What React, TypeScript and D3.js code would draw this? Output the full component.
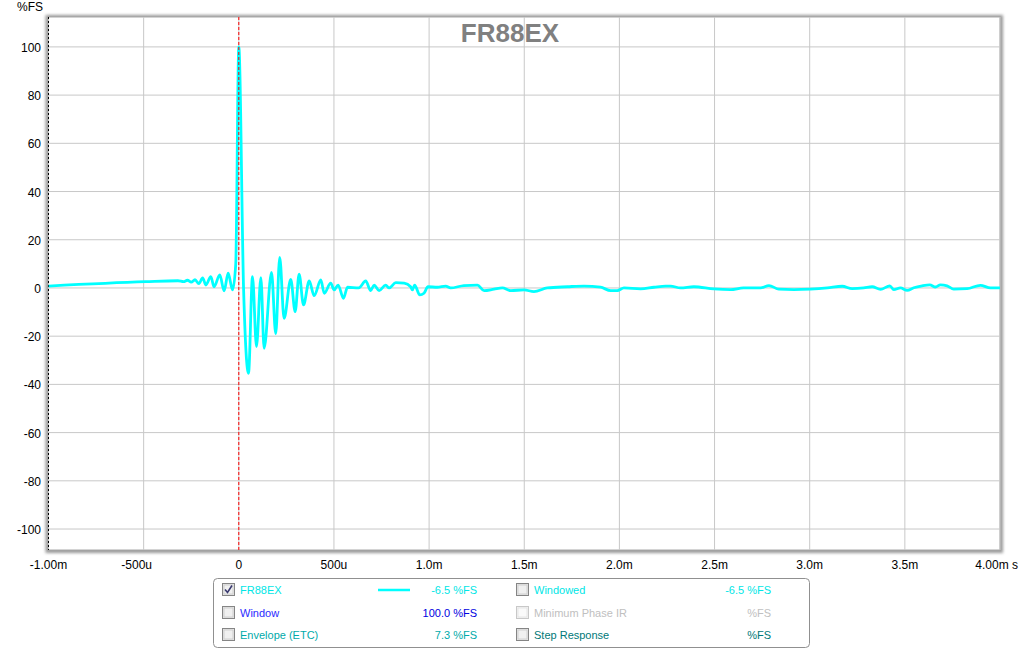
import * as d3 from "d3";

// impulse response samples (time in ms, value in %FS)
const times = [
  -1.0, -0.49, -0.32, -0.29, -0.27, -0.25, -0.23, -0.21, -0.19, -0.173,
  -0.147, -0.13, -0.1, -0.077, -0.056, -0.033, -0.016, 0.0, 0.025, 0.051,
  0.072, 0.093, 0.116, 0.133, 0.172, 0.194, 0.215, 0.238, 0.273, 0.296,
  0.317, 0.34, 0.37, 0.396, 0.431, 0.449, 0.483, 0.501, 0.522, 0.55,
  0.571, 0.63, 0.667, 0.693, 0.711, 0.737, 0.772, 0.79, 0.825, 0.869,
  0.903, 0.912, 0.924, 0.951, 0.973, 0.994, 1.043, 1.087, 1.113, 1.183,
  1.254, 1.289, 1.341, 1.385, 1.429, 1.499, 1.551, 1.621, 1.727, 1.814,
  1.901, 1.954, 1.989, 2.024, 2.111, 2.182, 2.243, 2.269, 2.321, 2.391,
  2.496, 2.584, 2.652, 2.742, 2.786, 2.838, 2.917, 3.004, 3.092, 3.171,
  3.223, 3.284, 3.328, 3.372, 3.421, 3.442, 3.477, 3.512, 3.547, 3.591,
  3.631, 3.661, 3.687, 3.722, 3.757, 3.827, 3.897, 3.95, 4.0,
];
const values = [
  0.8, 2.6, 3.0, 2.6, 3.2, 2.4, 3.4, 1.8, 4.2, 1.2,
  4.7, 0.5, 5.4, -1.2, 6.1, -0.8, 10, 100, 0, -35.4,
  4.7, -24.3, 4.3, -25, 6.5, -19, 12.7, -12.6, 3.6, -9.8,
  5.7, -7, 2.9, -3.2, 3.3, -2.2, 2.0, -0.8, 1.2, -4.3,
  0.3, 0, 2.9, -1.1, 1.2, -1.1, 1.2, 0, 2.2, 2.0,
  0.5, -0.8, 1.2, -2.9, -2.2, 0.5, 0.3, 0.8, 0, 1.0,
  1.2, -1.1, -0.5, 0, -1.1, -0.8, -1.5, 0, 0.5, 0.8,
  0.3, -1.1, -1.1, 0, -0.4, 0.3, 0.8, 0.8, 0, 0.5,
  -0.4, -0.7, 0, 0, 1.0, -0.5, -0.7, -0.5, 0, 0.7,
  -0.3, 0, 0.5, -0.6, 0.9, -0.7, 0, -1.0, 0.1, 0.9,
  1.3, 0.4, 1.3, 0.9, -0.5, -0.3, 1.1, 0, 0,
];

const xTicks = [-1, -0.5, 0, 0.5, 1, 1.5, 2, 2.5, 3, 3.5, 4];
const xTickLabels = ["-1.00m", "-500u", "0", "500u", "1.0m", "1.5m", "2.0m", "2.5m", "3.0m", "3.5m", "4.00m s"];
const yTicks = [-100, -80, -60, -40, -20, 0, 20, 40, 60, 80, 100];

const legendLeft = [
  { label: "FR88EX", value: "-6.5 %FS", color: "#00e6e6", valueColor: "#00e6e6", checked: true, line: true },
  { label: "Window", value: "100.0 %FS", color: "#2a2aff", valueColor: "#0000e0", checked: false, line: false },
  { label: "Envelope (ETC)", value: "7.3 %FS", color: "#00aaaa", valueColor: "#00aaaa", checked: false, line: false },
];
const legendRight = [
  { label: "Windowed", value: "-6.5 %FS", color: "#00e6e6", valueColor: "#00e6e6", faded: false },
  { label: "Minimum Phase IR", value: "%FS", color: "#c0c0c0", valueColor: "#c0c0c0", faded: true },
  { label: "Step Response", value: "%FS", color: "#007878", valueColor: "#007878", faded: false },
];

const W = 1024;
const H = 650;
const plot = { left: 48.5, right: 1000, top: 17, bottom: 550 };
const font = "'Liberation Sans', Arial, sans-serif";

function Checkbox({ x, y, checked, faded }: { x: number; y: number; checked?: boolean; faded?: boolean }) {
  return (
    <g transform={`translate(${x},${y})`}>
      <rect x={0.5} y={0.5} width={12} height={12} fill={faded ? "#f4f4f4" : "#e8e8e8"} stroke={faded ? "#c8c8c8" : "#858585"} />
      <rect x={2} y={2} width={9} height={9} fill={faded ? "#fafafa" : "#f0f0f0"} stroke={faded ? "#e0e0e0" : "#c8c8c8"} strokeWidth={0.8} />
      {checked && (
        <path d="M3,6.5 L5.5,9.5 L10,2.5" fill="none" stroke="#3a3a70" strokeWidth={1.6} />
      )}
    </g>
  );
}

export default function App() {
  const x = d3.scaleLinear().domain([-1, 4]).range([plot.left, plot.right]);
  const y = d3.scaleLinear().domain([-108.7, 112.4]).range([plot.bottom, plot.top]);

  const points: [number, number][] = times.map((t, i) => [t, values[i]]);
  const line = d3
    .line<[number, number]>()
    .x((d) => x(d[0]))
    .y((d) => y(d[1]))
    .curve(d3.curveMonotoneX);

  const pw = plot.right - plot.left;
  const ph = plot.bottom - plot.top;
  const rowY = [590, 613, 635];

  return (
    <svg width={W} height={H} style={{ position: "absolute", left: 0, top: 0, fontFamily: font }}>
      <defs>
        <filter id="shadow" x="-5%" y="-5%" width="110%" height="110%">
          <feGaussianBlur stdDeviation={1.6} />
        </filter>
        <clipPath id="clip">
          <rect x={plot.left} y={plot.top} width={pw} height={ph} />
        </clipPath>
      </defs>
      <rect width={W} height={H} fill="#ffffff" />

      {/* plot frame with soft shadow */}
      <rect x={plot.left - 3} y={plot.top - 2} width={pw + 6} height={ph + 5} fill="#9a9a9a" filter="url(#shadow)" />
      <rect x={plot.left} y={plot.top} width={pw} height={ph} fill="#ffffff" stroke="#a8a8a8" strokeWidth={1} />

      {/* grid */}
      {xTicks.map((t) => (
        <line key={`gx${t}`} x1={x(t)} x2={x(t)} y1={plot.top} y2={plot.bottom} stroke="#c8c8c8" strokeWidth={1} />
      ))}
      {yTicks.map((v) => (
        <line key={`gy${v}`} x1={plot.left} x2={plot.right} y1={y(v)} y2={y(v)} stroke="#c8c8c8" strokeWidth={1} />
      ))}

      {/* markers */}
      <line x1={x(-1)} x2={x(-1)} y1={plot.top} y2={plot.bottom} stroke="#000" strokeWidth={1} strokeDasharray="2,2" />

      {/* trace */}
      <path d={line(points) ?? ""} fill="none" stroke="#00ffff" strokeWidth={2.8} strokeLinejoin="round" clipPath="url(#clip)" />
      <line x1={x(0)} x2={x(0)} y1={plot.top} y2={plot.bottom} stroke="#ff0000" strokeWidth={1} strokeDasharray="3,2" />

      {/* title */}
      <text x={510} y={42} textAnchor="middle" fontSize={26} fontWeight="bold" fill="#808080">FR88EX</text>

      {/* y axis */}
      <text x={30} y={11} textAnchor="middle" fontSize={12} fill="#000">%FS</text>
      {yTicks.map((v) => (
        <text key={`ty${v}`} x={41} y={y(v) + 5} textAnchor="end" fontSize={12} fill="#000">{v}</text>
      ))}

      {/* x axis */}
      {xTicks.map((t, i) => {
        const last = i === xTicks.length - 1;
        return (
          <text
            key={`tx${t}`}
            x={last ? 1018 : x(t) - (t < 0 && t > -1 ? 7 : 0)}
            y={569}
            textAnchor={last ? "end" : "middle"}
            fontSize={12}
            fill="#000"
          >
            {xTickLabels[i]}
          </text>
        );
      })}

      {/* legend */}
      <rect x={213.5} y={578.5} width={596} height={69} rx={4} fill="#ffffff" stroke="#909090" />
      {legendLeft.map((d, i) => (
        <g key={`ll${i}`}>
          <Checkbox x={222} y={rowY[i] - 7} checked={d.checked} />
          <text x={240} y={rowY[i] + 4} fontSize={11} fill={d.color}>{d.label}</text>
          {d.line && <line x1={378} x2={410} y1={rowY[i]} y2={rowY[i]} stroke="#00ffff" strokeWidth={2.5} />}
          <text x={477} y={rowY[i] + 4} textAnchor="end" fontSize={11} fill={d.valueColor}>{d.value}</text>
        </g>
      ))}
      {legendRight.map((d, i) => (
        <g key={`lr${i}`}>
          <Checkbox x={516} y={rowY[i] - 7} faded={d.faded} />
          <text x={534} y={rowY[i] + 4} fontSize={11} fill={d.color}>{d.label}</text>
          <text x={771} y={rowY[i] + 4} textAnchor="end" fontSize={11} fill={d.valueColor}>{d.value}</text>
        </g>
      ))}
    </svg>
  );
}
